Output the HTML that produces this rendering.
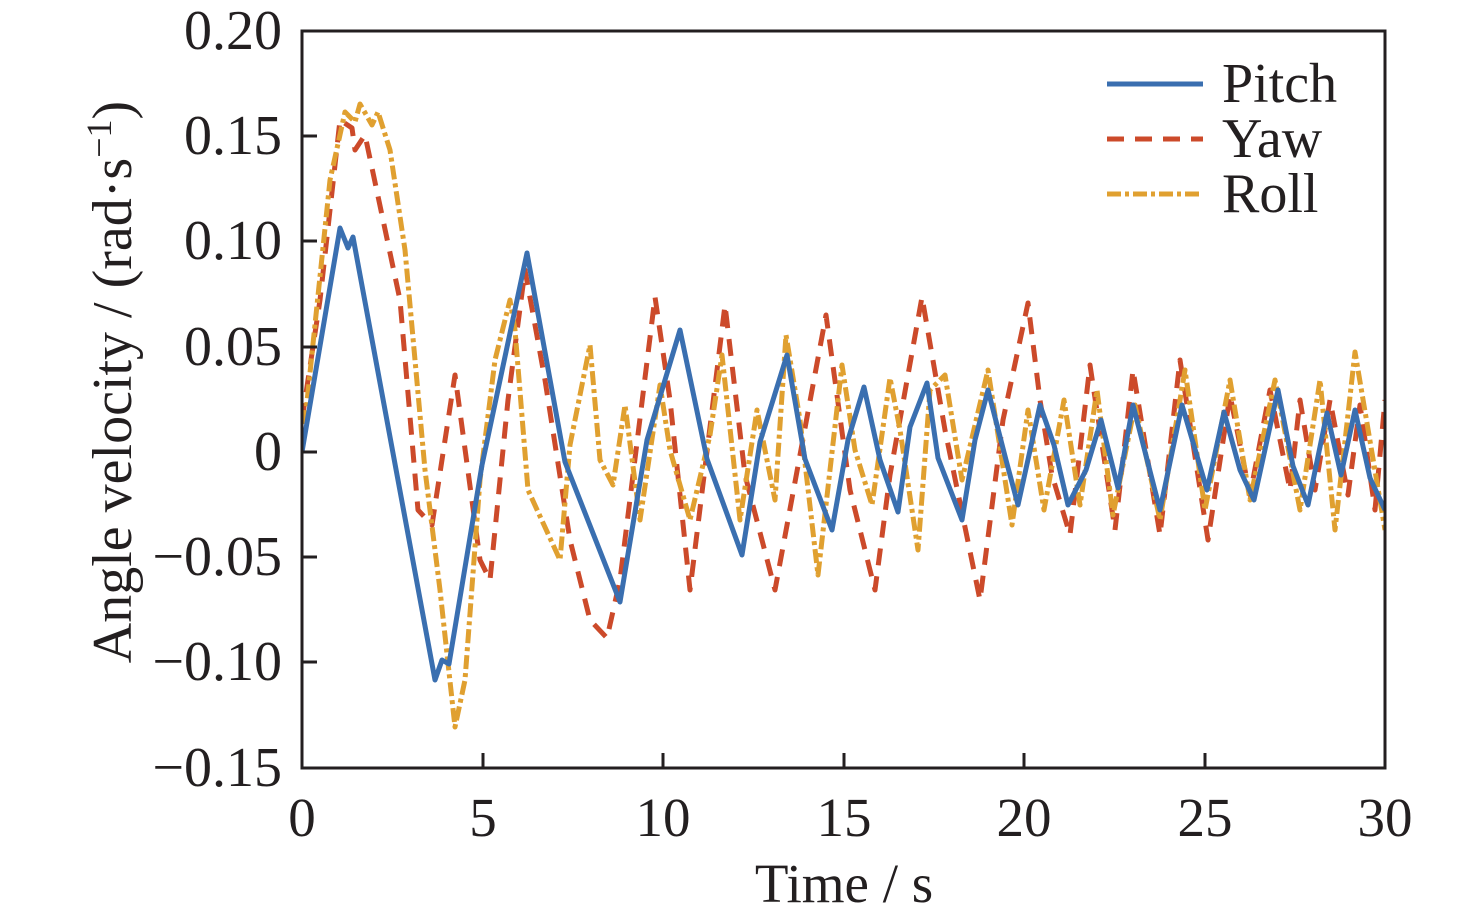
<!DOCTYPE html>
<html><head><meta charset="utf-8"><style>
html,body{margin:0;padding:0;background:#fff;}
svg{display:block;font-family:"Liberation Serif",serif;}
</style></head><body>
<svg width="1476" height="919" viewBox="0 0 1476 919" xmlns="http://www.w3.org/2000/svg">
<defs><clipPath id="c"><rect x="302" y="31" width="1083" height="737"/></clipPath></defs>
<g clip-path="url(#c)" fill="none" stroke-width="5" stroke-linejoin="round">
<polyline stroke="#cc4a2a" stroke-dasharray="17,11" points="302,420 320,300 340,120 352,128 355,150 365,135 400,300 418,510 432,525 455,375 480,560 490,580 508,400 525,270 545,380 570,540 590,620 607,638 620,580 655,297 670,400 690,590 725,305 745,475 775,590 800,455 826,315 850,490 875,590 890,475 922,297 945,430 980,600 1003,420 1028,303 1040,400 1052,475 1070,535 1090,365 1115,530 1133,370 1160,535 1180,360 1208,540 1230,395 1250,495 1270,390 1290,490 1300,400 1315,490 1330,400 1348,495 1360,405 1375,510 1385,400"/>
<polyline stroke="#e0a030" stroke-dasharray="14,4,4,4" points="302,450 330,180 345,112 355,122 360,104 372,125 378,112 390,150 405,250 425,470 440,590 455,727 465,680 480,480 495,360 510,300 515,330 528,490 560,560 570,445 590,345 600,460 613,485 625,405 640,520 660,385 670,450 690,520 710,435 722,355 740,520 757,410 775,500 786,335 800,420 818,575 842,365 855,450 872,505 890,378 900,430 918,550 930,390 945,375 962,480 988,370 1012,525 1028,410 1044,510 1064,400 1080,505 1097,390 1113,515 1135,405 1160,520 1185,370 1205,510 1230,380 1250,500 1275,380 1300,510 1320,380 1335,530 1355,352 1385,530"/>
<polyline stroke="#3a6fb0" points="302,452 340,228 348,248 353,237 435,680 442,660 449,664 482,465 527,253 565,462 620,602 647,440 680,330 707,459 742,555 760,442 787,355 805,459 832,530 848,440 864,387 880,460 898,512 910,427 927,383 938,458 962,520 975,440 988,390 1006,460 1018,505 1040,405 1054,445 1068,505 1086,470 1101,420 1118,488 1133,405 1160,510 1182,405 1207,490 1224,412 1240,470 1254,500 1278,390 1293,466 1308,505 1327,413 1341,475 1355,410 1370,478 1385,510"/>
</g>
<rect x="302" y="31" width="1083" height="737" fill="none" stroke="#231f20" stroke-width="3"/>
<g stroke="#231f20" stroke-width="3">
<line x1="302" y1="136" x2="317" y2="136"/><line x1="302" y1="241" x2="317" y2="241"/><line x1="302" y1="347" x2="317" y2="347"/><line x1="302" y1="452" x2="317" y2="452"/><line x1="302" y1="557" x2="317" y2="557"/><line x1="302" y1="662" x2="317" y2="662"/>
<line x1="483" y1="768" x2="483" y2="753"/><line x1="663" y1="768" x2="663" y2="753"/><line x1="844" y1="768" x2="844" y2="753"/><line x1="1024" y1="768" x2="1024" y2="753"/><line x1="1205" y1="768" x2="1205" y2="753"/>
</g>
<g font-size="56" fill="#231f20" text-anchor="end">
<text x="282" y="49">0.20</text><text x="282" y="154">0.15</text><text x="282" y="259">0.10</text><text x="282" y="365">0.05</text><text x="282" y="470">0</text><text x="282" y="575">−0.05</text><text x="282" y="680">−0.10</text><text x="282" y="786">−0.15</text>
</g>
<g font-size="55" fill="#231f20" text-anchor="middle">
<text x="302" y="836">0</text><text x="483" y="836">5</text><text x="663" y="836">10</text><text x="844" y="836">15</text><text x="1024" y="836">20</text><text x="1205" y="836">25</text><text x="1385" y="836">30</text>
<text x="844" y="902">Time / s</text>
<text transform="translate(131,382) rotate(-90)" font-size="56">Angle velocity / (rad·s<tspan font-size="36" dy="-20">−1</tspan><tspan dy="20">)</tspan></text>
</g>
<g stroke-width="5" fill="none">
<line x1="1107" y1="84" x2="1203" y2="84" stroke="#3a6fb0"/>
<line x1="1107" y1="139" x2="1203" y2="139" stroke="#cc4a2a" stroke-dasharray="17,11"/>
<line x1="1107" y1="194" x2="1203" y2="194" stroke="#e0a030" stroke-dasharray="14,4,4,4"/>
</g>
<g font-size="56" fill="#231f20">
<text x="1222" y="102">Pitch</text><text x="1222" y="157">Yaw</text><text x="1222" y="212">Roll</text>
</g>
</svg>
</body></html>
